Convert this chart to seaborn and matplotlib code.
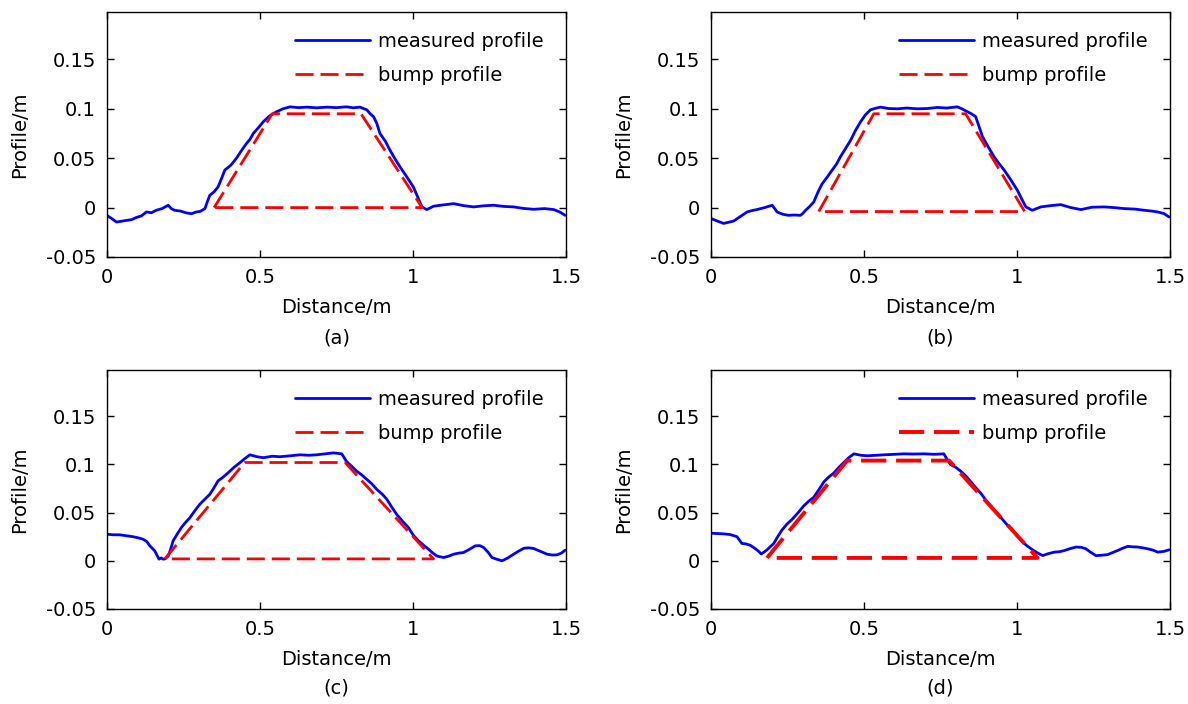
import matplotlib
matplotlib.use("Agg")
import matplotlib.pyplot as plt
import seaborn as sns
import pandas as pd

sns.set_style("ticks")
plt.rcParams['font.family'] = ['DejaVu Sans']
plt.rcParams.update({'font.size': 14, 'text.color': 'black', 'axes.labelcolor': 'black',
                     'xtick.color': 'black', 'ytick.color': 'black'})

panelLabels = ["(a)", "(b)", "(c)", "(d)"]

# measured profiles
distA = [0.0, 0.015, 0.031, 0.047, 0.063, 0.08, 0.096, 0.112, 0.129, 0.145, 0.161, 0.18, 0.2, 0.21, 0.221, 0.24,
         0.26, 0.276, 0.292, 0.305, 0.32, 0.328, 0.336, 0.35, 0.363, 0.375, 0.385, 0.405, 0.423, 0.44, 0.456, 0.467,
         0.478, 0.495, 0.511, 0.532, 0.554, 0.575, 0.598, 0.625, 0.653, 0.685, 0.718, 0.75, 0.783, 0.805, 0.827,
         0.84, 0.849, 0.86, 0.871, 0.882, 0.892, 0.91, 0.925, 0.94, 0.958, 0.98, 1.001, 1.015, 1.029, 1.045, 1.067,
         1.1, 1.133, 1.165, 1.198, 1.23, 1.263, 1.296, 1.329, 1.36, 1.394, 1.43, 1.46, 1.48, 1.497]
profA = [-0.008, -0.011, -0.0146, -0.0138, -0.013, -0.0122, -0.010, -0.0085, -0.0044, -0.0052, -0.0027, -0.001,
         0.0024, -0.001, -0.0027, -0.0035, -0.0054, -0.0062, -0.0044, -0.0038, -0.001, 0.006, 0.0125, 0.016,
         0.021, 0.03, 0.038, 0.043, 0.050, 0.058, 0.065, 0.069, 0.075, 0.081, 0.087, 0.093, 0.097, 0.1, 0.102,
         0.1012, 0.1017, 0.101, 0.1017, 0.1012, 0.102, 0.101, 0.1017, 0.1, 0.099, 0.095, 0.092, 0.085, 0.075,
         0.067, 0.058, 0.05, 0.041, 0.031, 0.021, 0.011, 0.0007, -0.002, 0.0014, 0.0028, 0.004, 0.002, 0.0007,
         0.0018, 0.0024, 0.0012, 0.0007, -0.0008, -0.0017, -0.001, -0.002, -0.0045, -0.0078]

distB = [0.0, 0.02, 0.041, 0.058, 0.074, 0.096, 0.118, 0.134, 0.15, 0.175, 0.2, 0.208, 0.216, 0.235, 0.254, 0.272,
         0.292, 0.3, 0.309, 0.322, 0.336, 0.35, 0.363, 0.38, 0.396, 0.41, 0.423, 0.44, 0.456, 0.472, 0.489, 0.505,
         0.521, 0.537, 0.554, 0.58, 0.609, 0.64, 0.674, 0.707, 0.74, 0.77, 0.805, 0.82, 0.838, 0.851, 0.865, 0.876,
         0.887, 0.905, 0.925, 0.94, 0.958, 0.98, 1.001, 1.015, 1.029, 1.05, 1.078, 1.11, 1.143, 1.176, 1.209,
         1.245, 1.285, 1.318, 1.35, 1.385, 1.416, 1.44, 1.46, 1.48, 1.497]
profB = [-0.011, -0.0135, -0.016, -0.0148, -0.0136, -0.009, -0.0044, -0.003, -0.002, 0.0, 0.0024, -0.001, -0.0044,
         -0.0068, -0.0078, -0.0075, -0.0078, -0.006, -0.0027, 0.001, 0.0058, 0.016, 0.024, 0.031, 0.038, 0.044,
         0.0515, 0.06, 0.068, 0.078, 0.087, 0.094, 0.099, 0.1005, 0.1017, 0.1003, 0.100, 0.1008, 0.100, 0.1003,
         0.1014, 0.1008, 0.102, 0.1, 0.097, 0.095, 0.092, 0.082, 0.072, 0.062, 0.0515, 0.045, 0.038, 0.028,
         0.0176, 0.009, 0.0007, -0.0027, 0.0007, 0.002, 0.003, 0.0, -0.002, 0.0004, 0.0007, 0.0, -0.001, -0.0015,
         -0.0027, -0.0035, -0.0044, -0.006, -0.0095]

distC = [0.0, 0.02, 0.041, 0.063, 0.085, 0.1, 0.118, 0.13, 0.14, 0.148, 0.156, 0.163, 0.17, 0.177, 0.183, 0.19,
         0.2, 0.208, 0.216, 0.23, 0.243, 0.257, 0.271, 0.287, 0.303, 0.32, 0.336, 0.35, 0.363, 0.38, 0.396, 0.415,
         0.434, 0.45, 0.467, 0.49, 0.511, 0.54, 0.565, 0.6, 0.63, 0.66, 0.685, 0.713, 0.74, 0.767, 0.775, 0.783,
         0.8, 0.816, 0.833, 0.849, 0.865, 0.882, 0.9, 0.914, 0.93, 0.947, 0.966, 0.985, 1.0, 1.018, 1.035, 1.051,
         1.065, 1.078, 1.1, 1.118, 1.133, 1.15, 1.165, 1.185, 1.203, 1.218, 1.231, 1.245, 1.258, 1.275, 1.291,
         1.31, 1.329, 1.345, 1.362, 1.378, 1.394, 1.415, 1.438, 1.455, 1.471, 1.485, 1.497]
profC = [0.0276, 0.027, 0.027, 0.026, 0.025, 0.024, 0.0224, 0.02, 0.0155, 0.013, 0.0103, 0.006, 0.0017, 0.003,
         0.0017, 0.002, 0.005, 0.012, 0.0207, 0.028, 0.0345, 0.04, 0.0448, 0.052, 0.0586, 0.064, 0.069, 0.076,
         0.083, 0.087, 0.0914, 0.097, 0.1017, 0.106, 0.110, 0.108, 0.107, 0.1085, 0.108, 0.109, 0.110, 0.1095,
         0.110, 0.111, 0.112, 0.111, 0.107, 0.103, 0.098, 0.093, 0.089, 0.0845, 0.08, 0.074, 0.069, 0.064, 0.056,
         0.048, 0.041, 0.0345, 0.027, 0.0207, 0.016, 0.012, 0.008, 0.005, 0.0034, 0.005, 0.0069, 0.008, 0.0086,
         0.012, 0.0155, 0.0158, 0.0138, 0.009, 0.0034, 0.0015, 0.0, 0.003, 0.0069, 0.01, 0.013, 0.0135, 0.0128,
         0.01, 0.0069, 0.006, 0.0062, 0.008, 0.011]

distD = [0.0, 0.02, 0.041, 0.063, 0.085, 0.101, 0.115, 0.129, 0.145, 0.155, 0.164, 0.173, 0.183, 0.195, 0.205,
         0.218, 0.232, 0.248, 0.265, 0.285, 0.303, 0.32, 0.336, 0.353, 0.369, 0.385, 0.401, 0.418, 0.434, 0.45,
         0.467, 0.49, 0.511, 0.54, 0.565, 0.6, 0.63, 0.66, 0.696, 0.73, 0.761, 0.772, 0.783, 0.8, 0.816, 0.833,
         0.849, 0.865, 0.882, 0.898, 0.914, 0.93, 0.947, 0.966, 0.985, 1.0, 1.018, 1.035, 1.051, 1.068, 1.084,
         1.1, 1.122, 1.14, 1.155, 1.175, 1.193, 1.21, 1.225, 1.24, 1.258, 1.277, 1.296, 1.312, 1.329, 1.345,
         1.362, 1.378, 1.394, 1.41, 1.427, 1.445, 1.46, 1.48, 1.497]
profD = [0.0286, 0.0283, 0.028, 0.0272, 0.025, 0.018, 0.0175, 0.016, 0.0125, 0.01, 0.0071, 0.009, 0.0114, 0.015,
         0.018, 0.025, 0.032, 0.038, 0.043, 0.05, 0.057, 0.062, 0.066, 0.074, 0.082, 0.087, 0.091, 0.097, 0.102,
         0.107, 0.111, 0.1095, 0.109, 0.1095, 0.110, 0.1105, 0.111, 0.1108, 0.111, 0.1105, 0.111, 0.105, 0.100,
         0.097, 0.093, 0.088, 0.082, 0.076, 0.070, 0.063, 0.057, 0.051, 0.045, 0.038, 0.032, 0.026, 0.0196, 0.015,
         0.0114, 0.008, 0.0054, 0.0072, 0.009, 0.0095, 0.0107, 0.0128, 0.0143, 0.014, 0.0125, 0.009, 0.0054,
         0.0058, 0.0064, 0.0085, 0.0107, 0.013, 0.015, 0.0145, 0.0143, 0.0135, 0.0125, 0.011, 0.009, 0.0098,
         0.0114]

# trapezoid bump profiles (closed outline)
bumpDistA = [0.35, 0.54, 0.83, 1.03, 0.35]
bumpProfA = [0.0, 0.095, 0.095, 0.0, 0.0]
bumpDistB = [0.352, 0.532, 0.832, 1.025, 0.352]
bumpProfB = [-0.004, 0.095, 0.095, -0.004, -0.004]
bumpDistC = [0.189, 0.45, 0.778, 1.067, 0.189]
bumpProfC = [0.002, 0.102, 0.102, 0.002, 0.002]
bumpDistD = [0.183, 0.445, 0.778, 1.067, 0.183]
bumpProfD = [0.003, 0.104, 0.104, 0.003, 0.003]

measured = [(distA, profA), (distB, profB), (distC, profC), (distD, profD)]
bumps = [(bumpDistA, bumpProfA), (bumpDistB, bumpProfB), (bumpDistC, bumpProfC), (bumpDistD, bumpProfD)]
bumpWidths = [2.0, 2.0, 2.0, 2.8]

fig = plt.figure(figsize=(11.88, 7.04), dpi=100)
axPos = [
    [107 / 1188, 1 - 257 / 704, 459 / 1188, 245 / 704],
    [711 / 1188, 1 - 257 / 704, 459 / 1188, 245 / 704],
    [107 / 1188, 1 - 609 / 704, 459 / 1188, 239 / 704],
    [711 / 1188, 1 - 609 / 704, 459 / 1188, 239 / 704],
]

for i in range(4):
    ax = fig.add_axes(axPos[i])
    dfMeas = pd.DataFrame({'dist': measured[i][0], 'prof': measured[i][1]})
    dfBump = pd.DataFrame({'dist': bumps[i][0], 'prof': bumps[i][1]})
    sns.lineplot(data=dfMeas, x='dist', y='prof', ax=ax, color='#0000ff', linewidth=2.0,
                 sort=False, estimator=None, label='measured profile')
    sns.lineplot(data=dfBump, x='dist', y='prof', ax=ax, color='#ff0000', linewidth=bumpWidths[i],
                 sort=False, estimator=None, label='bump profile', dashes=False)
    ax.lines[1].set_dashes((6.5, 2.5))

    ax.set_xlim(0, 1.5)
    ax.set_ylim(-0.05, 0.198)
    ax.set_xticks([0, 0.5, 1, 1.5])
    ax.set_xticklabels(['0', '0.5', '1', '1.5'])
    ax.set_yticks([-0.05, 0, 0.05, 0.1, 0.15])
    ax.set_yticklabels(['-0.05', '0', '0.05', '0.1', '0.15'])
    ax.tick_params(direction='in', length=5, width=1, top=True, right=True, pad=8, labelsize=14)
    for sp in ax.spines.values():
        sp.set_linewidth(1.0)
        sp.set_color('black')
    ax.set_xlabel("Distance/m", labelpad=8, fontsize=14)
    ax.set_ylabel("Profile/m", labelpad=12, fontsize=14)
    ax.text(0.5, -0.33, panelLabels[i], transform=ax.transAxes, ha='center', va='center', fontsize=14)
    leg = ax.legend(loc='upper right', bbox_to_anchor=(0.980, 0.975), frameon=False, handlelength=3.85,
                    handletextpad=0.4, labelspacing=0.8, borderaxespad=0.3, fontsize=14)
    leg.get_lines()[1].set_dashes((6.5, 2.5))

fig.savefig("out.png", dpi=100)
